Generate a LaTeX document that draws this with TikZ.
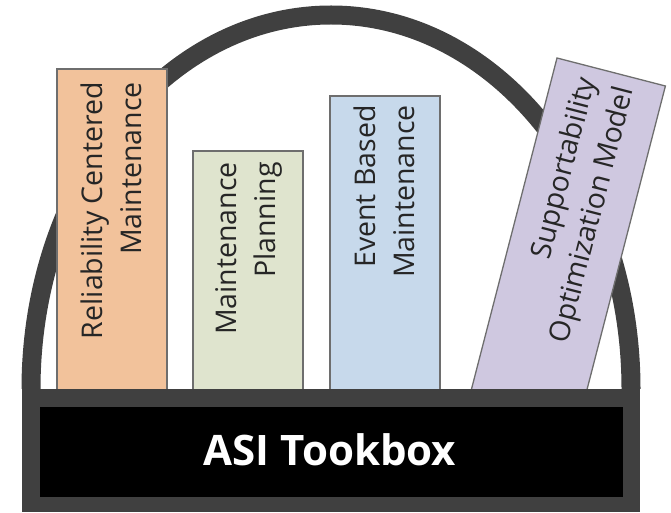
\documentclass[tikz,border=0pt]{standalone}
\usepackage{fontspec}
\setmainfont{Open Sans}
\usetikzlibrary{calc}
\definecolor{frame}{HTML}{404040}
\definecolor{rcm}{HTML}{F2C29B}
\definecolor{mp}{HTML}{DFE4CE}
\definecolor{ebm}{HTML}{C7D9EB}
\definecolor{som}{HTML}{CFC8E0}
\definecolor{edge}{HTML}{6E6E6E}
\tikzset{
  book/.style={draw=edge, line width=1.3pt},
  booktext/.style={font=\fontsize{28.5}{39}\selectfont, align=right, inner sep=0pt, anchor=east, text=black!85},
}
\begin{document}
\begin{tikzpicture}[x=1pt,y=1pt]
\useasboundingbox (0,0) rectangle (671,512);
% handle
\draw[frame, line width=19pt] (31,123) arc[start angle=180, end angle=0, x radius=300, y radius=374];
% books
\filldraw[book, fill=rcm] (57,100) rectangle (167,443);
\filldraw[book, fill=mp] (193,100) rectangle (303,361);
\filldraw[book, fill=ebm] (330,100) rectangle (440,416);
\filldraw[book, fill=som] (557,454) -- (665.4,426) -- (571.9,64) -- (463.5,92) -- cycle;
\node[booktext, rotate=90] (t1) at (111,430) {Reliability Centered\\Maintenance};
\node[booktext, rotate=90] (t2) at (249,350) {Maintenance\\Planning};
\node[booktext, rotate=90] (t3) at (384,407) {Event Based\\Maintenance};
\node[booktext, rotate=75.5] (t4) at (607.5,429) {Supportability\\Optimization Model};
% box body
\fill[frame] (22,0.5) rectangle (640,123);
\fill[black] (40,15) rectangle (623,105);
\node[font=\bfseries\fontsize{42}{50}\selectfont, text=white, anchor=base, inner sep=0pt] (title) at (330,47) {ASI Tookbox};
\end{tikzpicture}
\end{document}
